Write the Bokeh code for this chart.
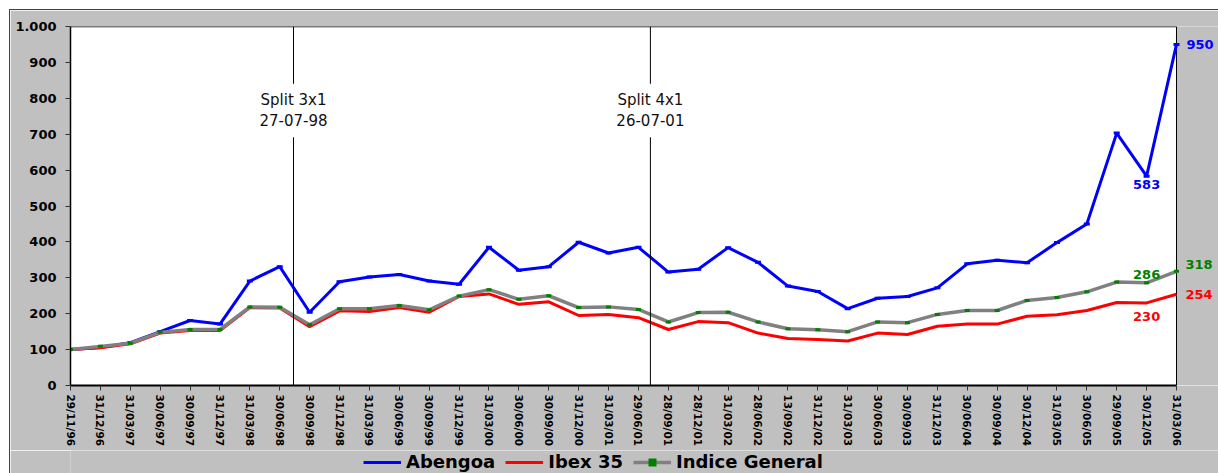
from bokeh.plotting import figure
from bokeh.layouts import column, row
from bokeh.models import Range1d, FixedTicker, Span, Label, Legend, LegendItem, ColumnDataSource, Spacer
from bokeh.embed import file_html
from bokeh.resources import INLINE

dates = ["29/11/96", "31/12/96", "31/03/97", "30/06/97", "30/09/97", "31/12/97", "31/03/98", "30/06/98",
         "30/09/98", "31/12/98", "31/03/99", "30/06/99", "30/09/99", "31/12/99", "31/03/00", "30/06/00",
         "30/09/00", "31/12/00", "31/03/01", "29/06/01", "28/09/01", "28/12/01", "31/03/02", "28/06/02",
         "13/09/02", "31/12/02", "31/03/03", "30/06/03", "30/09/03", "31/12/03", "30/06/04", "30/09/04",
         "30/12/04", "31/03/05", "30/06/05", "29/09/05", "30/12/05", "31/03/06"]
abengoa = [100, 106, 119, 150, 181, 171, 291, 331, 204, 289, 302, 309, 291, 282, 385, 321, 331, 399, 369, 385,
           316, 324, 384, 343, 277, 262, 214, 243, 248, 272, 339, 349, 342, 398, 450, 703, 583, 950]
ibex = [100, 105, 116, 146, 153, 153, 217, 216, 164, 208, 206, 217, 204, 248, 255, 226, 233, 195, 198, 189,
        156, 178, 175, 146, 131, 128, 124, 146, 142, 165, 171, 171, 193, 197, 209, 231, 230, 254]
general = [100, 109, 118, 148, 156, 156, 219, 218, 169, 214, 214, 223, 211, 249, 267, 240, 250, 217, 219, 212,
           177, 203, 204, 177, 158, 155, 150, 177, 175, 198, 209, 209, 237, 245, 261, 288, 286, 318]
split_labels = ["Split 3x1\n27-07-98", "Split 4x1\n26-07-01"]
split_pos = [7.46, 19.40]
y_ticks = [0, 100, 200, 300, 400, 500, 600, 700, 800, 900, 1000]

FONT = "DejaVu Sans"
BLUE, RED, GRAY, GREEN = "#0000ff", "#ff0000", "#808080", "#008000"
BG = "#c0c0c0"

n = len(dates)
last = n - 1
prev = n - 2
x = list(range(n))
src = ColumnDataSource(dict(x=x, ab=abengoa, ib=ibex, ge=general))

# layout (pixels)
OFF = 10
FIG_W, FIG_H, LEG_H = 1208, 440, 23
LEFT, TOP, BOTTOM = 60, 16, 65
DATA_PX = 1106                     # width of the plotted data span
FRAME_PX = FIG_W - LEFT            # frame reaches the right edge; right strip painted grey
x_max = last * FRAME_PX / DATA_PX
y_max = y_ticks[-1]

p = figure(width=FIG_W, height=FIG_H, output_backend="svg", toolbar_location=None,
           x_range=Range1d(0, x_max), y_range=Range1d(0, y_max),
           min_border_left=LEFT, min_border_right=0, min_border_top=TOP, min_border_bottom=BOTTOM)
p.background_fill_color = "white"
p.border_fill_color = BG
p.outline_line_color = None
p.xgrid.visible = False
p.ygrid.visible = False

# axes
p.yaxis.ticker = FixedTicker(ticks=y_ticks)
p.yaxis.major_label_overrides = {1000: "1.000"}
p.yaxis.major_label_text_font = FONT
p.yaxis.major_label_text_font_style = "bold"
p.yaxis.major_label_text_font_size = "13px"
p.yaxis.major_label_text_color = "black"
p.yaxis.axis_line_color = "black"
p.yaxis.axis_line_width = 1.5
p.yaxis.major_tick_line_color = "#333333"
p.yaxis.major_tick_out = 5
p.yaxis.major_tick_in = 0
p.yaxis.minor_tick_line_color = None
p.yaxis.major_label_standoff = 9

p.xaxis.ticker = FixedTicker(ticks=x)
p.xaxis.bounds = (0, last)
p.xaxis.major_label_overrides = {i: d for i, d in enumerate(dates)}
p.xaxis.major_label_orientation = "vertical"
p.xaxis.major_label_text_font = FONT
p.xaxis.major_label_text_font_style = "bold"
p.xaxis.major_label_text_font_size = "10.5px"
p.xaxis.major_label_text_color = "black"
p.xaxis.axis_line_color = "black"
p.xaxis.axis_line_width = 2
p.xaxis.major_tick_line_color = "#333333"
p.xaxis.major_tick_out = 5
p.xaxis.major_tick_in = 0
p.xaxis.minor_tick_line_color = None
p.xaxis.major_label_standoff = 4

# grey strip right of the plot area, and plot-area border lines
p.quad(left=[last], right=[x_max * 1.01], bottom=[0], top=[y_max * 1.01], fill_color=BG, line_color=None)
p.line([0, last], [y_max, y_max], line_color="black", line_width=1.5)
p.line([last, last], [0, y_max], line_color="black", line_width=1)

# split lines
for lab, pos in zip(split_labels, split_pos):
    p.add_layout(Span(location=pos, dimension="height", line_color="black", line_width=1))
    p.add_layout(Label(x=pos, y=766, text=lab, text_align="center", text_baseline="middle",
                       text_font=FONT, text_font_size="15px", text_color="#111111",
                       text_line_height=1.2,
                       background_fill_color="white", padding=7))

# series
p.line("x", "ab", source=src, line_color=BLUE, line_width=3)
p.rect("x", "ab", width=6, height=3, width_units="screen", height_units="screen",
       source=src, fill_color=BLUE, line_color=None)
p.line("x", "ib", source=src, line_color=RED, line_width=3)
p.line("x", "ge", source=src, line_color=GRAY, line_width=3.5)
p.rect("x", "ge", width=5, height=3, width_units="screen", height_units="screen",
       source=src, fill_color=GREEN, line_color=None)

# data labels
def lbl(xi, series, color, align, baseline, xo, yo):
    p.add_layout(Label(x=xi, y=series[xi], text=str(series[xi]), text_color=color,
                       text_font=FONT, text_font_style="bold", text_font_size="13px",
                       text_align=align, text_baseline=baseline, x_offset=xo, y_offset=yo))

lbl(last, abengoa, BLUE, "left", "middle", 10, 0)
lbl(prev, abengoa, BLUE, "center", "top", 0, -4)
lbl(last, general, GREEN, "left", "bottom", 9, 2)
lbl(prev, general, GREEN, "center", "bottom", 0, 4)
lbl(last, ibex, RED, "left", "middle", 9, 0)
lbl(prev, ibex, RED, "center", "top", 0, -9)

# legend strip (separate figure below the chart); its sample glyphs sit outside its view
q = figure(width=FIG_W, height=LEG_H, output_backend="svg", toolbar_location=None,
           x_range=Range1d(0, 1), y_range=Range1d(0, 1),
           x_axis_location=None, y_axis_location=None,
           min_border_left=0, min_border_right=0, min_border_top=0, min_border_bottom=0)
q.grid.visible = False
q.background_fill_color = BG
q.border_fill_color = BG
q.outline_line_color = None
hid = [-5, -4]
l_ab = q.line(hid, hid, line_color=BLUE, line_width=3)
l_ib = q.line(hid, hid, line_color=RED, line_width=3)
l_ge = q.line(hid, hid, line_color=GRAY, line_width=3.5)
l_gm = q.scatter(hid, hid, marker="square", size=4, fill_color=GREEN, line_color=None)
legend = Legend(items=[LegendItem(label="Abengoa", renderers=[l_ab]),
                       LegendItem(label="Ibex 35", renderers=[l_ib]),
                       LegendItem(label="Indice General", renderers=[l_ge, l_gm])],
                orientation="horizontal", location=(293, 1),
                label_text_font=FONT, label_text_font_style="bold", label_text_font_size="18px",
                label_text_color="black", glyph_width=38, glyph_height=20, label_height=20,
                label_standoff=5, spacing=10, padding=0, margin=0,
                background_fill_alpha=0, border_line_alpha=0)
q.add_layout(legend)

chart = column(p, q, spacing=0)
chart.styles = {"outline": "1px solid #404040"}
page = row(Spacer(width=OFF, height=FIG_H + LEG_H + OFF),
           column(Spacer(width=FIG_W, height=OFF), chart, spacing=0), spacing=0)

open("out.html", "w").write(file_html(page, INLINE))
